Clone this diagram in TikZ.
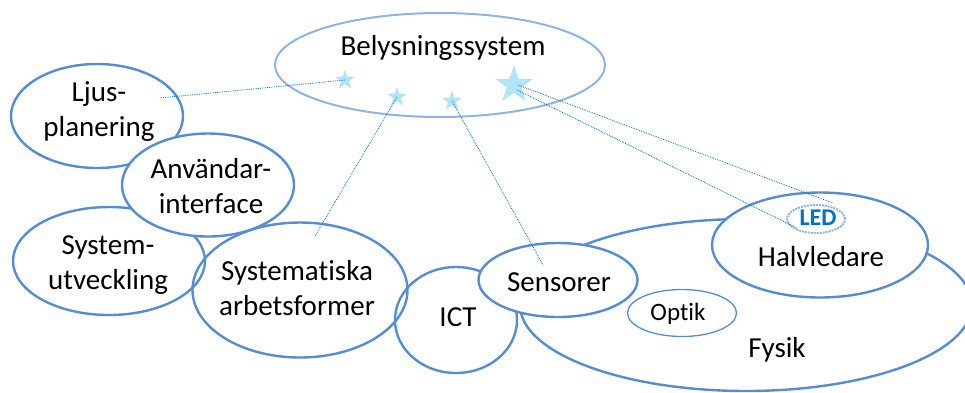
\documentclass[tikz,border=0pt]{standalone}
\usepackage{fontspec}
\setmainfont{Carlito}[Ligatures=NoCommon]
\usetikzlibrary{shapes.geometric}

\definecolor{ringblue}{RGB}{86,140,212}
\definecolor{paleblue}{RGB}{141,180,226}
\definecolor{starblue}{RGB}{178,228,248}
\definecolor{ledblue}{RGB}{0,112,192}

\begin{document}
\begin{tikzpicture}[x=1pt, y=-1pt,
  bubble/.style={ellipse, draw=ringblue, line width=2.4pt, inner sep=0pt, fill=white},
  word/.style={font=\fontsize{29}{35}\selectfont, align=center, inner sep=0pt},
  twinkle/.style={star, star points=5, star point ratio=2.6, fill=starblue, inner sep=0pt},
  hint/.style={ledblue, densely dotted, line width=0.8pt}]

\useasboundingbox (0,0) rectangle (965,392);

\node [ellipse, draw=paleblue, line width=2pt, minimum width=330pt, minimum height=104pt] (belys) at (440,65) {};

\node [bubble, minimum width=452pt, minimum height=172pt] (fysik) at (746,305) {};
\node [bubble, minimum width=216pt, minimum height=105pt] (halv) at (820,245) {};
\node [bubble, line width=1.3pt, minimum width=109pt, minimum height=47pt] (optik) at (682,313) {};
\node [bubble, fill=none, minimum width=122pt, minimum height=106pt] (ict) at (456,320) {};
\node [bubble, minimum width=159pt, minimum height=74pt] (sens) at (558,280) {};
\node [bubble, minimum width=192pt, minimum height=108pt] (sysutv) at (109,261) {};
\node [bubble, fill=none, minimum width=215pt, minimum height=135pt] (systm) at (300,290) {};
\node [bubble, minimum width=172pt, minimum height=104pt] (ljus) at (97,116) {};
\node [bubble, minimum width=172pt, minimum height=103pt] (anv) at (208,185) {};
\node [ellipse, draw=paleblue, densely dotted, line width=2pt, minimum width=58pt, minimum height=28pt] (led) at (816,219) {};

\node [word, anchor=base] (belys-t) at (443,55) {Belysningssystem};
\node [word] (ljus-t) at (99,112) {Ljus-\\planering};
\node [word] (anv-t) at (211,186) {Användar-\\interface};
\node [word] (sysutv-t) at (108,265) {System-\\utveckling};
\node [word] (systm-t) at (297,288) {Systematiska\\arbetsformer};
\node [word, anchor=base] (ict-t) at (458,326) {ICT};
\node [word, anchor=base] (sens-t) at (559,291) {Sensorer};
\node [word, anchor=base] (halv-t) at (821,266) {Halvledare};
\node [word, anchor=base, font=\fontsize{25}{30}\selectfont] (optik-t) at (678,320) {Optik};
\node [word, anchor=base] (fysik-t) at (777,357) {Fysik};
\node [word, anchor=base, font=\fontsize{24}{29}\selectfont\bfseries, text=ledblue] (led-t) at (818,225) {LED};

\node [twinkle, minimum size=21pt] (s1) at (345,80) {};
\node [twinkle, minimum size=21pt] (s2) at (397,97) {};
\node [twinkle, minimum size=21pt] (s3) at (452,101) {};
\node [twinkle, minimum size=40pt] (s4) at (514,85) {};

\coordinate (e1) at (160,98);
\coordinate (e2) at (315,236);
\coordinate (e3) at (543,265);
\coordinate (e4) at (833,203);
\coordinate (e5) at (797,228);

\draw [hint] (s1.center) -- (e1);
\draw [hint] (s2.center) -- (e2);
\draw [hint] (s3.center) -- (e3);
\draw [hint] ([xshift=4pt]s4.center) -- (e4);
\draw [hint] ([xshift=3pt,yshift=-5pt]s4.center) -- (e5);
\end{tikzpicture}
\end{document}
